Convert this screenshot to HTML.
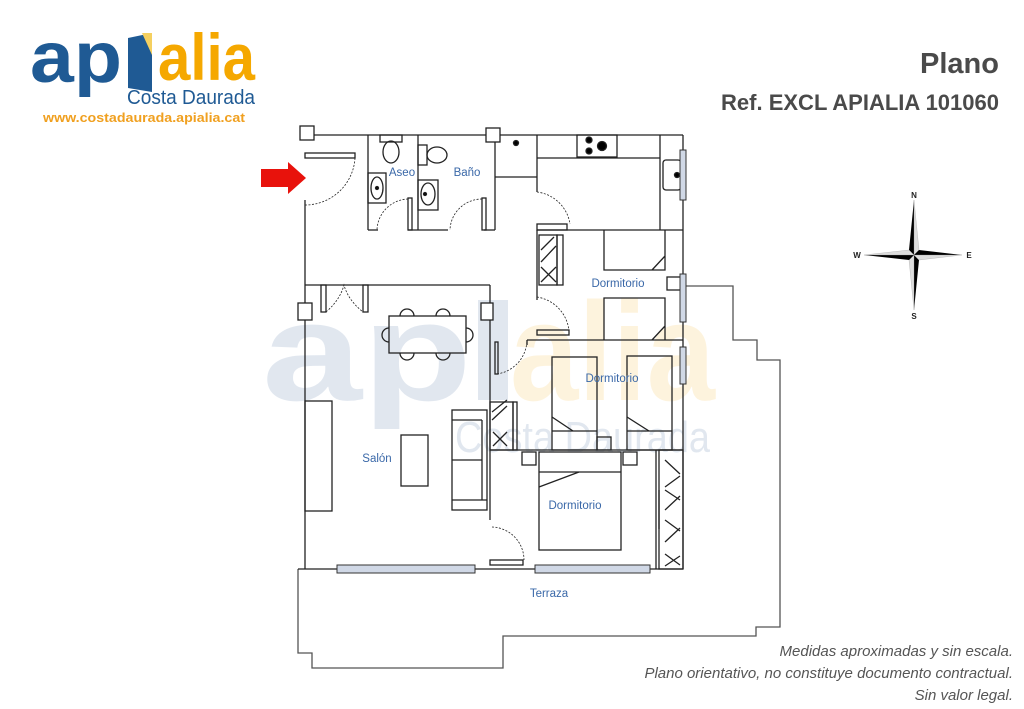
<!DOCTYPE html>
<html><head><meta charset="utf-8"><style>
html,body{margin:0;padding:0;background:#fff;width:1024px;height:709px;overflow:hidden}
svg{display:block}
text{font-family:"Liberation Sans",sans-serif}
</style></head><body>
<svg width="1024" height="709" viewBox="0 0 1024 709" xmlns="http://www.w3.org/2000/svg">
<!-- watermark -->
<g opacity="0.13">
<text x="262" y="400" font-size="140" font-weight="bold" fill="#1f4f8c" textLength="210" lengthAdjust="spacingAndGlyphs">ap</text>
<rect x="478" y="300" width="30" height="100" fill="#1f4f8c"/>
<text x="510" y="400" font-size="140" font-weight="bold" fill="#f5a800" textLength="205" lengthAdjust="spacingAndGlyphs">alia</text>
<text x="455" y="452" font-size="44" fill="#1f4f8c" textLength="255" lengthAdjust="spacingAndGlyphs">Costa Daurada</text>
</g>
<!-- logo -->
<text x="30" y="82" font-size="72" font-weight="bold" fill="#1f5a94" textLength="92" lengthAdjust="spacingAndGlyphs">ap</text>
<polygon points="128,38 152,33 152,92 128,88" fill="#1f5a94"/>
<polygon points="142,33 152,33 152,55" fill="#f5d060"/>
<text x="158" y="80" font-size="66" font-weight="bold" fill="#f5a800" textLength="97" lengthAdjust="spacingAndGlyphs">alia</text>
<text x="127" y="104" font-size="20" fill="#1f5a94" textLength="128" lengthAdjust="spacingAndGlyphs">Costa Daurada</text>
<text x="43" y="122" font-size="13" font-weight="bold" fill="#f0a020" textLength="202" lengthAdjust="spacingAndGlyphs">www.costadaurada.apialia.cat</text>
<!-- title -->
<text x="999" y="73" font-size="29" font-weight="bold" fill="#4a4a4a" text-anchor="end">Plano</text>
<text x="999" y="110" font-size="22" font-weight="bold" fill="#4a4a4a" text-anchor="end">Ref. EXCL APIALIA 101060</text>
<!-- footer -->
<g font-size="15" font-style="italic" fill="#555" text-anchor="end">
<text x="1013" y="656">Medidas aproximadas y sin escala.</text>
<text x="1013" y="678">Plano orientativo, no constituye documento contractual.</text>
<text x="1013" y="700">Sin valor legal.</text>
</g>
<!-- arrow -->
<polygon points="261,169 288,169 288,162 306,178 288,194 288,187 261,187" fill="#e8120c"/>
<!-- compass -->
<g>
<polygon points="914,200 909,250 914,255" fill="#000"/>
<polygon points="914,200 919,250 914,255" fill="#ddd" stroke="#999" stroke-width="0.3"/>
<polygon points="914,310 919,260 914,255" fill="#000"/>
<polygon points="914,310 909,260 914,255" fill="#ddd" stroke="#999" stroke-width="0.3"/>
<polygon points="864,255 909,260 914,255" fill="#000"/>
<polygon points="864,255 909,250 914,255" fill="#ddd" stroke="#999" stroke-width="0.3"/>
<polygon points="962,255 919,250 914,255" fill="#000"/>
<polygon points="962,255 919,260 914,255" fill="#ddd" stroke="#999" stroke-width="0.3"/>
<g font-size="8" font-weight="bold" fill="#222" text-anchor="middle">
<text x="914" y="198">N</text><text x="914" y="319">S</text><text x="857" y="258">W</text><text x="969" y="258">E</text>
</g>
</g>
<!-- plan -->
<g fill="none" stroke="#222" stroke-width="1.3">
<!-- terrace outline -->
<polyline points="298,569 298,653 312,653 312,668 503,668 503,636 756,636 756,627 780,627 780,360 757,360 757,340 733,340 733,286 686,286" stroke="#555"/>
<!-- outer walls -->
<line x1="305" y1="135" x2="683" y2="135"/>
<line x1="305" y1="200" x2="305" y2="569"/>
<line x1="683" y1="135" x2="683" y2="569"/>
<line x1="298" y1="569" x2="683" y2="569"/>
<!-- entry -->
<rect x="300" y="126" width="14" height="14" fill="#fff"/>
<rect x="305" y="153" width="50" height="5"/>
<path d="M355,158 A50,50 0 0 1 305,205" stroke-dasharray="2,1.5" stroke-width="0.8"/>
<!-- aseo/baño -->
<line x1="368" y1="135" x2="368" y2="230"/>
<line x1="418" y1="135" x2="418" y2="230"/>
<line x1="495" y1="135" x2="495" y2="230"/>
<line x1="368" y1="230" x2="378" y2="230"/>
<line x1="408" y1="230" x2="448" y2="230"/>
<line x1="484" y1="230" x2="495" y2="230"/>
<rect x="408" y="198" width="4" height="32"/>
<rect x="482" y="198" width="4" height="32"/>
<path d="M408,199 A32,32 0 0 0 377,230" stroke-dasharray="2,1.5" stroke-width="0.8"/>
<path d="M482,199 A32,32 0 0 0 450,230" stroke-dasharray="2,1.5" stroke-width="0.8"/>
<rect x="380" y="135" width="22" height="7"/>
<ellipse cx="391" cy="152" rx="8" ry="11"/>
<rect x="418" y="145" width="9" height="20"/>
<ellipse cx="437" cy="155" rx="10" ry="8"/>
<rect x="368" y="173" width="18" height="30"/>
<ellipse cx="377" cy="188" rx="6" ry="11"/>
<rect x="418" y="180" width="20" height="30"/>
<ellipse cx="428" cy="194" rx="7" ry="11"/>
<circle cx="377" cy="188" r="1.5" fill="#000"/>
<circle cx="425" cy="194" r="1.5" fill="#000"/>
<rect x="486" y="128" width="14" height="14" fill="#fff"/>
<!-- kitchen -->
<line x1="537" y1="135" x2="537" y2="192"/>
<line x1="495" y1="177" x2="537" y2="177"/>
<line x1="537" y1="158" x2="660" y2="158"/>
<line x1="660" y1="135" x2="660" y2="230"/>
<rect x="577" y="135" width="40" height="22"/>
<circle cx="589" cy="140" r="3" fill="#000"/><circle cx="589" cy="151" r="3" fill="#000"/><circle cx="602" cy="146" r="4.5" fill="#000"/>
<circle cx="516" cy="143" r="2.5" fill="#000"/>
<rect x="663" y="160" width="18" height="30" rx="3"/>
<circle cx="677" cy="175" r="2.5" fill="#000"/>
<rect x="537" y="224" width="30" height="6"/>
<path d="M537,192 A38,38 0 0 1 570,224" stroke-dasharray="2,1.5" stroke-width="0.8"/>
<line x1="537" y1="230" x2="683" y2="230"/>
<!-- corridor wall -->
<line x1="537" y1="230" x2="537" y2="300"/>
<!-- dormitorio 1 -->
<rect x="539" y="235" width="18" height="50"/>
<rect x="557" y="235" width="6" height="50"/>
<path d="M541,250 L554,237 M541,262 L556,246 M541,282 L556,267 M541,267 L556,282"/>
<path d="M604,230 L604,270 L665,270 L665,230 M652,270 L665,256"/>
<path d="M604,340 L604,298 L665,298 L665,340 M652,340 L665,326"/>
<rect x="667" y="277" width="16" height="13"/>
<rect x="537" y="330" width="32" height="5"/>
<path d="M537,297 A38,38 0 0 1 569,331" stroke-dasharray="2,1.5" stroke-width="0.8"/>
<line x1="527" y1="340" x2="683" y2="340"/>
<!-- dining wall -->
<line x1="305" y1="285" x2="490" y2="285"/>
<line x1="490" y1="285" x2="490" y2="520"/>
<rect x="321" y="285" width="5" height="27"/>
<rect x="363" y="285" width="5" height="27"/>
<path d="M326,312 Q340,300 344,285 Q348,300 363,312" stroke-dasharray="2,1.5" stroke-width="0.8"/>
<rect x="298" y="303" width="14" height="17" fill="#fff"/>
<rect x="481" y="303" width="12" height="17" fill="#fff"/>
<!-- table -->
<rect x="389" y="316" width="77" height="37"/>
<path d="M400,316 A7,7 0 0 1 414,316 M436,316 A7,7 0 0 1 450,316 M400,353 A7,7 0 0 0 414,353 M436,353 A7,7 0 0 0 450,353 M389,328 A7,7 0 0 0 389,342 M466,328 A7,7 0 0 1 466,342"/>
<!-- door to dorm2 -->
<rect x="495" y="342" width="3" height="32"/>
<path d="M497,374 A35,35 0 0 0 527,340" stroke-dasharray="2,1.5" stroke-width="0.8"/>
<line x1="527" y1="340" x2="527" y2="345"/>
<!-- dormitorio 2 -->
<rect x="552" y="357" width="45" height="93"/>
<line x1="552" y1="431" x2="597" y2="431"/>
<line x1="552" y1="417" x2="573" y2="431"/>
<rect x="627" y="356" width="45" height="94"/>
<line x1="627" y1="431" x2="672" y2="431"/>
<line x1="627" y1="417" x2="649" y2="431"/>
<rect x="597" y="437" width="14" height="13"/>
<line x1="490" y1="450" x2="683" y2="450"/>
<rect x="490" y="402" width="23" height="48"/>
<rect x="513" y="402" width="4" height="48"/>
<path d="M492,412 L507,400 M492,420 L507,406 M493,446 L507,432 M493,432 L507,446"/>
<!-- sofa/salon -->
<rect x="452" y="410" width="35" height="100"/>
<line x1="452" y1="420" x2="482" y2="420"/>
<line x1="482" y1="420" x2="482" y2="500"/>
<line x1="452" y1="460" x2="482" y2="460"/>
<line x1="452" y1="500" x2="487" y2="500"/>
<rect x="401" y="435" width="27" height="51"/>
<rect x="305" y="401" width="27" height="110"/>
<!-- dormitorio 3 -->
<rect x="522" y="452" width="14" height="13"/>
<rect x="539" y="452" width="82" height="98"/>
<line x1="539" y1="472" x2="621" y2="472"/>
<line x1="539" y1="487" x2="579" y2="472"/>
<rect x="623" y="452" width="14" height="13"/>
<line x1="656" y1="450" x2="656" y2="569"/>
<line x1="659" y1="490" x2="659" y2="529"/>
<rect x="659" y="450" width="24" height="119"/>
<path d="M665,460 L680,474 M665,487 L680,476 M665,490 L680,500 M665,510 L680,496 M665,520 L680,531 M665,542 L680,528 M665,554 L680,565 M665,566 L680,556"/>
<rect x="490" y="560" width="33" height="5"/>
<path d="M492,527 A33,33 0 0 1 524,560" stroke-dasharray="2,1.5" stroke-width="0.8"/>
</g>
<!-- windows -->
<g fill="#d0d8e6" stroke="#333" stroke-width="1">
<rect x="337" y="565" width="138" height="8"/>
<rect x="535" y="565" width="115" height="8"/>
<rect x="680" y="150" width="6" height="50"/>
<rect x="680" y="274" width="6" height="48"/>
<rect x="680" y="347" width="6" height="37"/>
</g>
<!-- labels -->
<g font-size="11.5" fill="#3a68a8" text-anchor="middle">
<text x="402" y="176">Aseo</text>
<text x="467" y="176">Baño</text>
<text x="618" y="287">Dormitorio</text>
<text x="612" y="382">Dormitorio</text>
<text x="377" y="462">Salón</text>
<text x="575" y="509">Dormitorio</text>
<text x="549" y="597">Terraza</text>
</g>
</svg>
</body></html>
